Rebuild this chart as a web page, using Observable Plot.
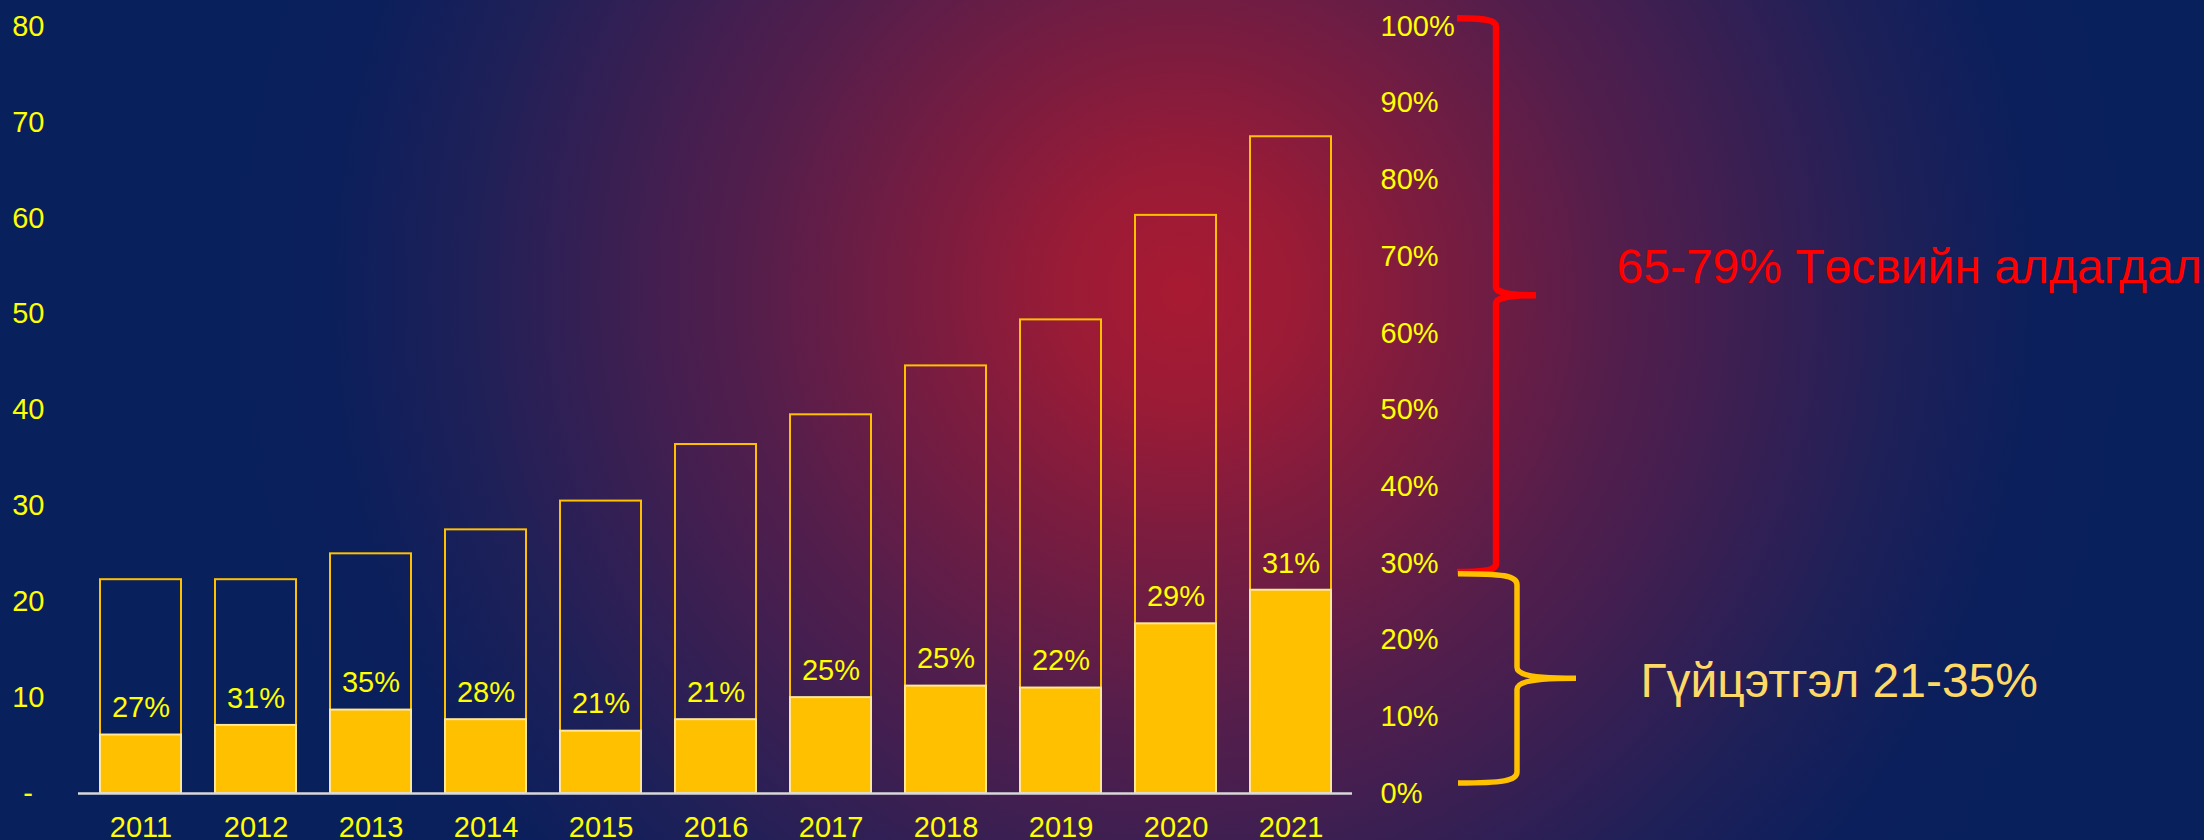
<!DOCTYPE html>
<html>
<head>
<meta charset="utf-8">
<script src="https://cdn.jsdelivr.net/npm/d3@7"></script>
<script src="https://cdn.jsdelivr.net/npm/@observablehq/plot@0.6"></script>
<style>
  html, body { margin: 0; padding: 0; background: #08205c; overflow: hidden; }
  #chart {
    width: 2204px; height: 840px;
    background: radial-gradient(circle 950px at 1182px 292px,
      #a81a32 0%, #9b1b36 12%, #7e1c3e 25%, #551e4b 45%, #3b1f52 60%, #1f2058 75%, #0b1f5c 90%, #08205c 100%);
  }
  #chart svg { display: block; }
</style>
</head>
<body>
<div id="chart"></div>
<script>
// ---- data ----
const years = ["2011", "2012", "2013", "2014", "2015", "2016", "2017", "2018", "2019", "2020", "2021"];
const totals = [22.3, 22.3, 25.0, 27.5, 30.5, 36.4, 39.5, 44.6, 49.4, 60.3, 68.5];
const performance = [6.1, 7.1, 8.7, 7.7, 6.5, 7.7, 10.0, 11.2, 11.0, 17.7, 21.2];
const shareLabels = ["27%", "31%", "35%", "28%", "21%", "21%", "25%", "25%", "22%", "29%", "31%"];
const leftTicks = [0, 10, 20, 30, 40, 50, 60, 70, 80];
const leftTickLabels = ["-\u2009\u2009", "10", "20", "30", "40", "50", "60", "70", "80"];
const pctTicks = [0, 10, 20, 30, 40, 50, 60, 70, 80, 90, 100];
const pctTickLabels = ["0%", "10%", "20%", "30%", "40%", "50%", "60%", "70%", "80%", "90%", "100%"];
const braceNames = ["65-79% Төсвийн алдагдал", "Гүйцэтгэл 21-35%"];
const braceFrom = [28.8, 1.3];   // percent
const braceTo = [101, 28.6];     // percent

// ---- helpers ----
const yMax = 80;
const pctToY = p => p * yMax / 100;
const rows = years.map((year, i) => ({year, total: totals[i], perf: performance[i], label: shareLabels[i]}));
const braceMid = braceFrom.map((f, i) => (f + braceTo[i]) / 2);
const FS = 29;

const braceStyle = [
  {color: "#ff0000", width: 6.5, r: 8, x0: 105, xv: 144, xt: 184, textDx: 264, textDy: -28, textColor: "#ff0000"},
  {color: "#ffc000", width: 5.5, r: 11, x0: 106, xv: 165, xt: 224, textDx: 288, textDy: 3, textColor: "#ffd966"}
];

function bracePath(x0, xv, xt, yT, yB, r) {
  const ym = (yT + yB) / 2;
  return `M${x0},${yT} C${x0 + (xv - x0) * 0.75},${yT} ${xv},${yT + 2} ${xv},${yT + r}` +
    ` L${xv},${ym - r} C${xv},${ym - 3} ${xv + (xt - xv) * 0.3},${ym} ${xt},${ym}` +
    ` C${xv + (xt - xv) * 0.3},${ym} ${xv},${ym + 3} ${xv},${ym + r}` +
    ` L${xv},${yB - r} C${xv},${yB - 2} ${x0 + (xv - x0) * 0.75},${yB} ${x0},${yB}`;
}

function braceMark(index, scales, values, dims) {
  const d = dims || {width: 2204, height: 840, marginLeft: 78, marginRight: 852, marginTop: 26, marginBottom: 47};
  const y = (scales && typeof scales.y === "function")
    ? scales.y
    : d3.scaleLinear([0, yMax], [d.height - d.marginBottom, d.marginTop]);
  const right = d.width - d.marginRight;
  const g = d3.create("svg:g");
  braceFrom.forEach((f, i) => {
    const s = braceStyle[i];
    const yT = y(pctToY(braceTo[i]));
    const yB = y(pctToY(f));
    g.append("path")
      .attr("d", bracePath(right + s.x0, right + s.xv, right + s.xt, yT, yB, s.r))
      .attr("fill", "none")
      .attr("stroke", s.color)
      .attr("stroke-width", s.width);
  });
  return g.node();
}

const chart = Plot.plot({
  width: 2204,
  height: 840,
  marginLeft: 78,
  marginRight: 852,
  marginTop: 26,
  marginBottom: 47,
  style: {background: "transparent", fontFamily: "'Liberation Sans', Arial, sans-serif", fontSize: FS + "px", color: "#ffff00", overflow: "visible"},
  x: {domain: years, paddingInner: 0.3, paddingOuter: 0.15, label: null},
  y: {domain: [0, yMax], label: null},
  marks: [
    Plot.barY(rows, {x: "year", y: "total", fill: "none", stroke: "#ffc000", strokeWidth: 2}),
    Plot.barY(rows, {x: "year", y: "perf", fill: "#ffc000", stroke: "#ffe699", strokeWidth: 2}),
    Plot.ruleY([0], {stroke: "#d9d9d9", strokeWidth: 2.5}),
    Plot.text(rows, {x: "year", y: "perf", text: "label", dy: -27, fill: "#ffff00", fontSize: FS}),
    Plot.axisX({tickSize: 0, tickPadding: 23, fontSize: FS, label: null}),
    Plot.axisY({anchor: "left", ticks: leftTicks, tickFormat: v => leftTickLabels[leftTicks.indexOf(v)], tickSize: 0, tickPadding: 34, fontSize: FS, label: null}),
    Plot.axisY({anchor: "right", ticks: pctTicks.map(pctToY), tickFormat: v => pctTickLabels[pctTicks.map(pctToY).indexOf(v)], tickSize: 0, tickPadding: 28, fontSize: FS, textAnchor: "start", label: null}),
    braceMark,
    Plot.text([braceMid[0]], {y: v => pctToY(v), text: () => braceNames[0], frameAnchor: "right", textAnchor: "start", dx: braceStyle[0].textDx, dy: braceStyle[0].textDy, fill: braceStyle[0].textColor, fontSize: 48}),
    Plot.text([braceMid[1]], {y: v => pctToY(v), text: () => braceNames[1], frameAnchor: "right", textAnchor: "start", dx: braceStyle[1].textDx, dy: braceStyle[1].textDy, fill: braceStyle[1].textColor, fontSize: 48})
  ]
});
document.getElementById("chart").append(chart);
</script>
</body>
</html>
